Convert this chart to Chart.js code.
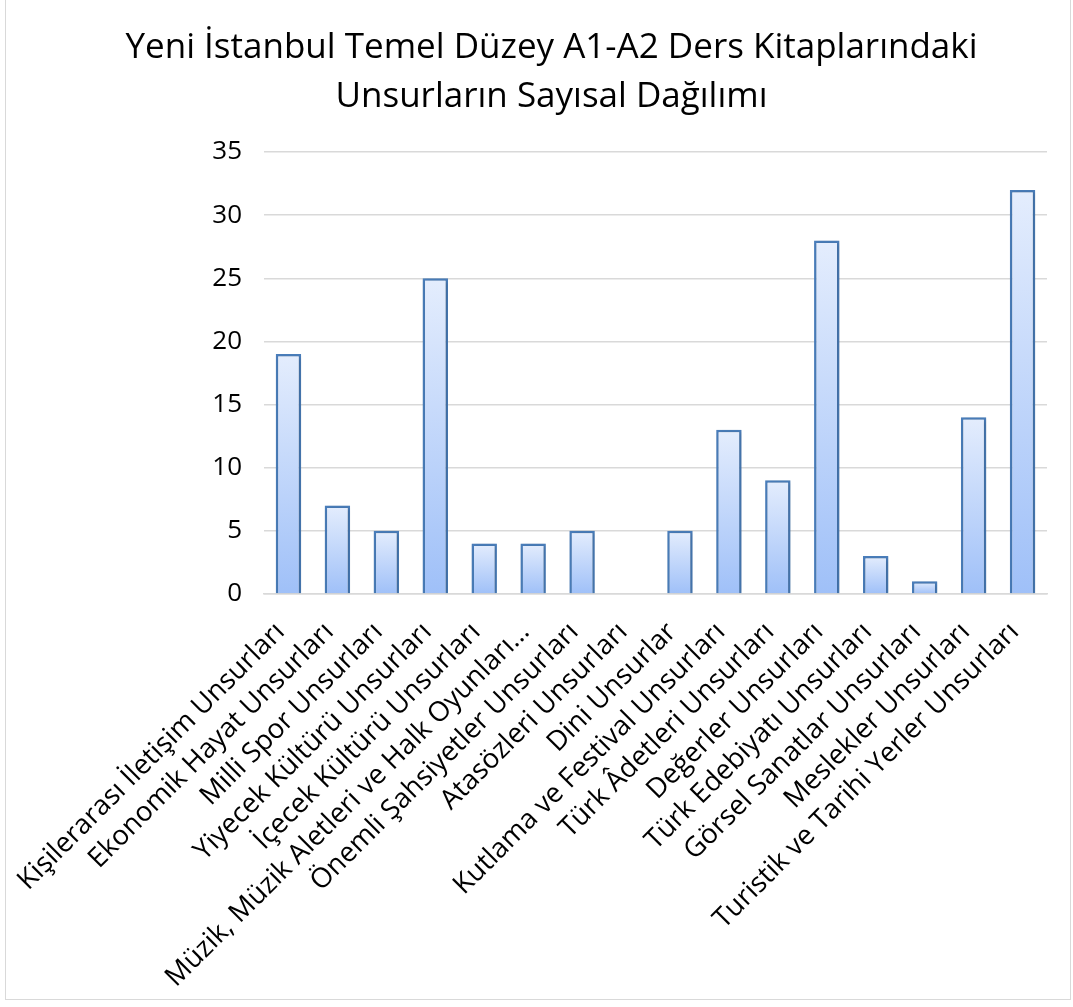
<!DOCTYPE html>
<html>
<head>
<meta charset="utf-8">
<script src="https://cdn.jsdelivr.net/npm/chart.js@4.4.1/dist/chart.umd.min.js"></script>
<style>
  html, body { margin: 0; padding: 0; background: #fff; }
  .frame { position: absolute; left: 5px; top: 0; width: 1066px; height: 1000px; border: 1px solid #d9d9d9; border-top: none; box-sizing: border-box; }
  .wrap { position: absolute; left: 0; top: 0; width: 1073px; height: 1007px; }
</style>
</head>
<body>
<div class="frame"></div>
<div class="wrap"><canvas id="unsurChart" width="1073" height="1007"></canvas></div>
<script>
// Categories and values
const categories = [
  'Kişilerarası İletişim Unsurları',
  'Ekonomik Hayat Unsurları',
  'Milli Spor Unsurları',
  'Yiyecek Kültürü Unsurları',
  'İçecek Kültürü Unsurları',
  'Müzik, Müzik Aletleri ve Halk Oyunları…',
  'Önemli Şahsiyetler Unsurları',
  'Atasözleri Unsurları',
  'Dini Unsurlar',
  'Kutlama ve Festival Unsurları',
  'Türk Âdetleri Unsurları',
  'Değerler Unsurları',
  'Türk Edebiyatı Unsurları',
  'Görsel Sanatlar Unsurları',
  'Meslekler Unsurları',
  'Turistik ve Tarihi Yerler Unsurları'
];
const counts = [19, 7, 5, 25, 4, 4, 5, 0, 5, 13, 9, 28, 3, 1, 14, 32];
const titleLines = ['Yeni İstanbul Temel Düzey A1-A2 Ders Kitaplarındaki', 'Unsurların Sayısal Dağılımı'];

// Each bar gets its own gradient: light at the top, deeper blue at the base
function barGradient(context) {
  const chart = context.chart;
  const yScale = chart.scales.y;
  if (!yScale || context.parsed === undefined) return '#c4d7fb';
  const top = yScale.getPixelForValue(context.parsed.y);
  const base = yScale.getPixelForValue(0);
  if (!isFinite(top) || !isFinite(base) || top === base) return '#c4d7fb';
  const g = chart.ctx.createLinearGradient(0, top, 0, base);
  g.addColorStop(0, '#e4edfd');
  g.addColorStop(1, '#9fc0f8');
  return g;
}

// Soft drop shadow behind the bars
const barShadow = {
  id: 'barShadow',
  beforeDatasetsDraw(chart) {
    const c = chart.ctx;
    c.save();
    c.shadowColor = 'rgba(0, 0, 0, 0.22)';
    c.shadowBlur = 4;
    c.shadowOffsetX = 1;
    c.shadowOffsetY = 1;
  },
  afterDatasetsDraw(chart) {
    chart.ctx.restore();
  }
};

const ctx = document.getElementById('unsurChart').getContext('2d');

const unsurChart = new Chart(ctx, {
  type: 'bar',
  data: {
    labels: categories,
    datasets: [{
      data: counts,
      backgroundColor: barGradient,
      borderColor: '#4a7ebb',
      borderWidth: 2.5,
      borderSkipped: 'bottom',
      barPercentage: 0.52,
      categoryPercentage: 1.0
    }]
  },
  options: {
    responsive: false,
    animation: false,
    layout: { padding: { left: 56, right: 26, top: 20, bottom: 8 } },
    scales: {
      y: {
        min: 0,
        max: 35,
        afterFit: (scale) => { scale.width = 208; },
        ticks: {
          stepSize: 5,
          color: '#000',
          padding: 22,
          font: { family: 'Open Sans', size: 26 }
        },
        grid: { color: '#d9d9d9', lineWidth: 1.5, drawTicks: false },
        border: { display: false }
      },
      x: {
        afterFit: (scale) => { scale.height = 405; },
        ticks: {
          color: '#000',
          minRotation: 45,
          maxRotation: 45,
          autoSkip: false,
          padding: 22,
          labelOffset: -8,
          font: { family: 'Open Sans', size: 27.5 }
        },
        grid: { display: false, drawTicks: false },
        border: { color: '#d9d9d9', width: 1.5 }
      }
    },
    plugins: {
      legend: { display: false },
      tooltip: { enabled: false },
      title: {
        display: true,
        text: titleLines,
        color: '#000',
        font: { family: 'Open Sans', size: 35, weight: 'normal', lineHeight: 1.4 },
        padding: { top: 4, bottom: 30 }
      }
    }
  },
  plugins: [barShadow]
});
</script>
</body>
</html>
